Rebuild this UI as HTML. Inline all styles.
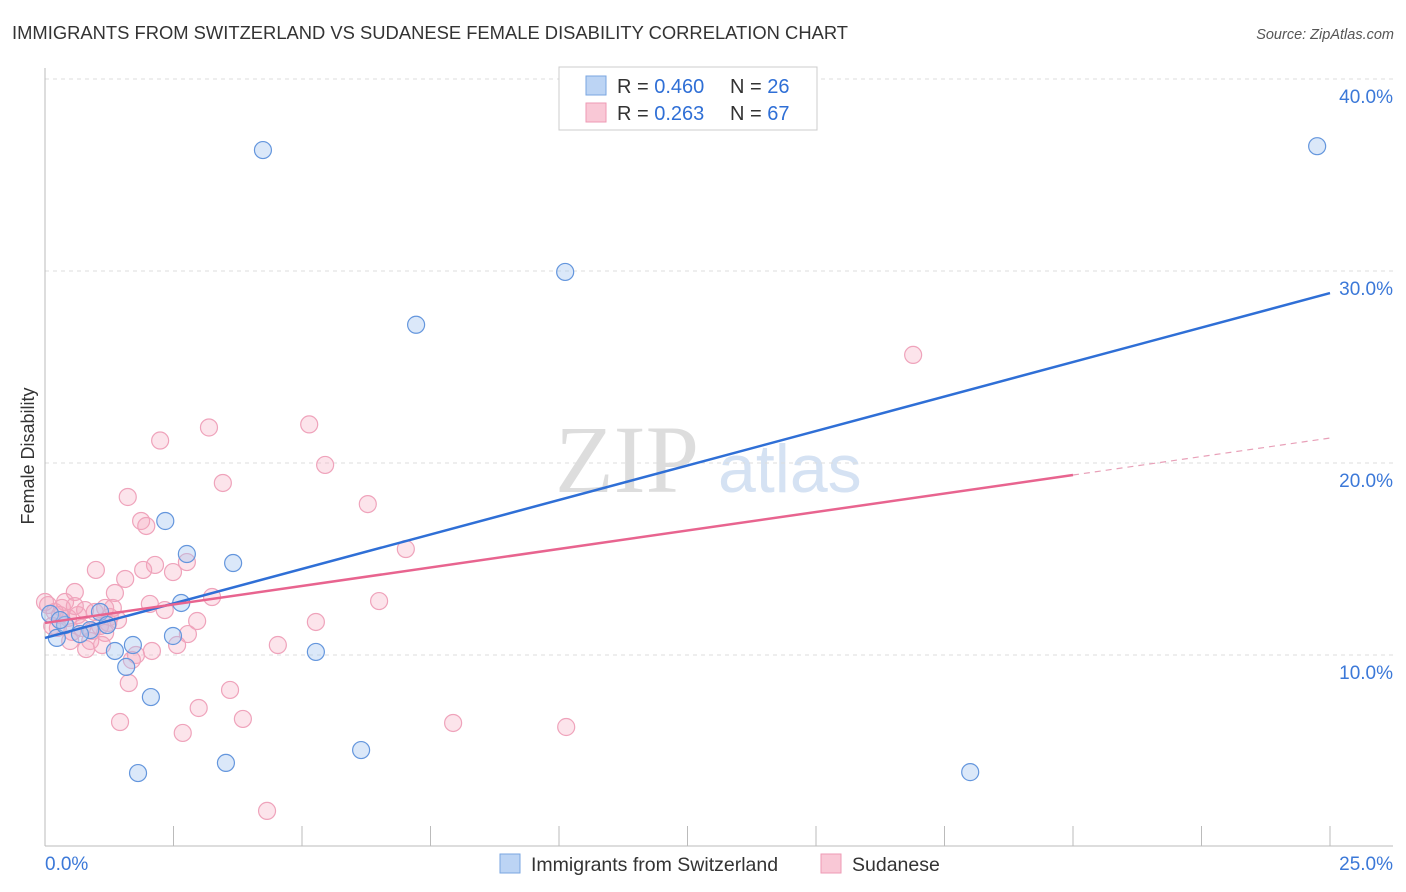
<!DOCTYPE html>
<html><head><meta charset="utf-8"><style>
body{margin:0;background:#fff;font-family:"Liberation Sans",sans-serif;}
svg{display:block}
</style></head><body>
<svg id="c" width="1406" height="892">
<text x="12" y="39" font-size="18" fill="#333" textLength="836" lengthAdjust="spacingAndGlyphs">IMMIGRANTS FROM SWITZERLAND VS SUDANESE FEMALE DISABILITY CORRELATION CHART</text>
<text x="1394" y="39" font-size="14.5" fill="#555" font-style="italic" text-anchor="end">Source: ZipAtlas.com</text>
<text x="34" y="456" font-size="18" fill="#333" transform="rotate(-90 34 456)" text-anchor="middle">Female Disability</text>
<text x="555" y="492" font-size="96" fill="#ddd" font-family="Liberation Serif">ZIP</text>
<text x="718" y="492" font-size="68" fill="#d5e2f3">atlas</text>
<g id="grid"></g><g id="marks"></g>
<g>
<rect x="559" y="67" width="258" height="63" fill="#fff" stroke="#ccc"/>
<rect x="586" y="76" width="20" height="19" fill="#bcd4f4" stroke="#7aa6e0"/>
<rect x="586" y="103" width="20" height="19" fill="#f9c8d6" stroke="#ee9ab4"/>
<text x="617" y="93" font-size="20" fill="#333">R = <tspan fill="#2f6fd6">0.460</tspan></text>
<text x="730" y="93" font-size="20" fill="#333">N = <tspan fill="#2f6fd6">26</tspan></text>
<text x="617" y="120" font-size="20" fill="#333">R = <tspan fill="#2f6fd6"> 0.263</tspan></text>
<text x="730" y="120" font-size="20" fill="#333">N = <tspan fill="#2f6fd6">67</tspan></text>
</g>
<g>
<rect x="500" y="854" width="20" height="19" fill="#bcd4f4" stroke="#7aa6e0"/>
<text x="531" y="871" font-size="19.5" fill="#333">Immigrants from Switzerland</text>
<rect x="821" y="854" width="20" height="19" fill="#f9c8d6" stroke="#ee9ab4"/>
<text x="852" y="871" font-size="19.5" fill="#333">Sudanese</text>
</g>
</svg>
<script>
const yTicks=[10,20,30,40];
const yTickLabels=["10.0%","20.0%","30.0%","40.0%"];
const xTickLabels=["0.0%","25.0%"];
const swissX=[4.24,10.12,7.22,24.75,2.34,2.76,3.66,2.65,2.49,1.71,1.36,1.58,5.27,2.06,1.81,3.52,6.15,18.00,0.23,0.10,0.39,0.88,1.07,1.21,0.68,0.29];
const swissY=[36.3,29.95,27.2,36.5,16.98,15.26,14.79,12.71,10.99,10.52,10.21,9.38,10.16,7.81,3.85,4.38,5.05,3.9,10.89,12.14,11.56,11.3,12.24,11.56,11.09,11.82];
const sudX=[16.89,5.14,3.19,2.24,5.45,3.46,1.61,6.28,1.87,1.97,7.02,2.14,0.99,1.91,2.49,2.76,1.56,0.58,1.36,3.25,6.5,2.04,2.33,1.32,2.96,5.27,2.78,2.57,4.53,1.23,1.17,0.88,0.49,0.80,1.11,2.08,1.77,1.69,1.63,3.60,2.99,3.85,1.46,2.68,7.94,10.14,4.32,0.06,0.19,0.33,0.45,0.25,0.64,0.78,0.97,1.26,1.42,1.07,0.53,0,0.14,0.39,0.72,0.91,1.17,0.29,0.58];
const sudY=[25.63,22.01,21.85,21.17,19.9,18.96,18.23,17.86,16.98,16.72,15.52,14.69,14.43,14.43,14.32,14.84,13.96,13.28,13.23,13.02,12.81,12.66,12.34,12.45,11.77,11.72,11.09,10.52,10.52,11.67,11.15,10.73,10.73,10.31,10.52,10.21,10,9.74,8.54,8.18,7.24,6.67,6.51,5.94,6.46,6.25,1.88,12.6,12.24,12.45,11.93,11.41,12.08,12.34,12.24,11.98,11.82,11.51,11.2,12.76,11.51,12.76,11.41,11.25,12.45,12.08,12.55];
const swissFit=[10.89,28.85];
const sudFit=[11.67,21.30];
const X=v=>45+v/25*1285, Y=v=>847-v*19.2;
const NS="http://www.w3.org/2000/svg";
function mk(t,a,p){const e=document.createElementNS(NS,t);for(const k in a)e.setAttribute(k,a[k]);p.appendChild(e);return e;}
const g=document.getElementById('grid'),m=document.getElementById('marks');
yTicks.forEach((t,i)=>{
 const l=mk('line',{x1:45,x2:1393,y1:Y(t),y2:Y(t),stroke:'#ddd','stroke-dasharray':'4,4'},g);
 
 
 const tx=mk('text',{x:1393,y:Y(t)+24,'font-size':19,fill:'#3b78d8','text-anchor':'end'},g);
 tx.textContent=yTickLabels[i];
 
 
});
mk('line',{x1:45,x2:45,y1:68,y2:846,stroke:'#bbb'},g);
mk('line',{x1:45,x2:1393,y1:846,y2:846,stroke:'#bbb'},g);
for(let i=1;i<=10;i++){const x=45+i*128.5;mk('line',{x1:x,x2:x,y1:826,y2:846,stroke:'#bbb'},g);}
[[45,'start',0],[1393,'end',1]].forEach(([x,a,i])=>{const t=mk('text',{x:x,y:870,'font-size':19,fill:'#3b78d8','text-anchor':a},g);t.textContent=xTickLabels[i];});
sudX.forEach((v,i)=>{const c=mk('circle',{cx:X(v),cy:Y(sudY[i]),r:8.5,fill:'rgba(245,165,190,0.3)',stroke:'#efa3bb','stroke-width':1.2},m);

});
swissX.forEach((v,i)=>{const c=mk('circle',{cx:X(v),cy:Y(swissY[i]),r:8.5,fill:'rgba(165,198,240,0.4)',stroke:'#6496dd','stroke-width':1.2},m);

});
const bl=mk('line',{x1:X(0),y1:Y(swissFit[0]),x2:X(25),y2:Y(swissFit[1]),stroke:'#2f6fd6','stroke-width':2.5},m);


const sm=sudFit[0]+(sudFit[1]-sudFit[0])*0.8;
const pl=mk('line',{x1:X(0),y1:Y(sudFit[0]),x2:X(20),y2:Y(sm),stroke:'#e8648f','stroke-width':2.5},m);


const pd=mk('line',{x1:X(20),y1:Y(sm),x2:X(25),y2:Y(sudFit[1]),stroke:'#e8a0b8','stroke-width':1.2,'stroke-dasharray':'6,5'},m);


</script>
</body></html>
